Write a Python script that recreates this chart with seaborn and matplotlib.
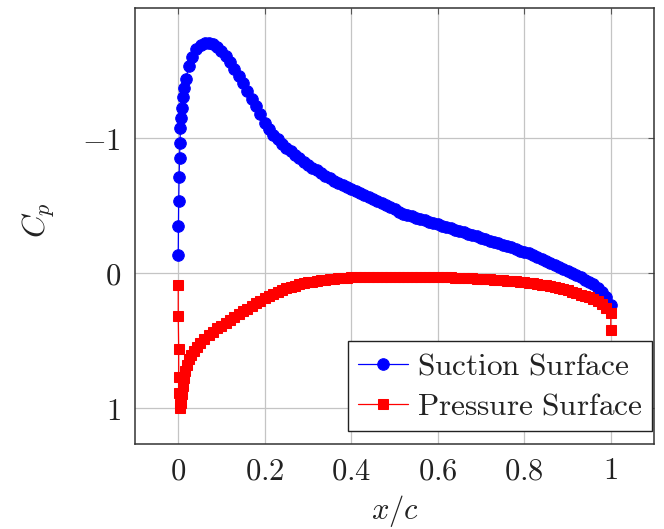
import numpy as np
import pandas as pd
import matplotlib
matplotlib.use('Agg')
import matplotlib.pyplot as plt
import seaborn as sns

# suction surface (upper)
x_suction = [0.000, 0.0005, 0.001, 0.002, 0.003, 0.004, 0.005, 0.007, 0.009,
             0.011, 0.014, 0.018, 0.024, 0.031, 0.040, 0.052, 0.062,
             0.07, 0.08, 0.09, 0.10, 0.11, 0.12, 0.13, 0.14, 0.15, 0.16,
             0.17, 0.18, 0.19, 0.20, 0.21, 0.22, 0.23, 0.24, 0.25, 0.26,
             0.27, 0.28, 0.29, 0.30, 0.31, 0.32, 0.33, 0.34, 0.35, 0.36,
             0.37, 0.38, 0.39, 0.40, 0.41, 0.42, 0.43, 0.44, 0.45, 0.46,
             0.47, 0.48, 0.49, 0.50, 0.51, 0.52, 0.53, 0.54, 0.55, 0.56,
             0.57, 0.58, 0.59, 0.60, 0.61, 0.62, 0.63, 0.64, 0.65, 0.66,
             0.67, 0.68, 0.69, 0.70, 0.71, 0.72, 0.73, 0.74, 0.75, 0.76,
             0.77, 0.78, 0.79, 0.80, 0.81, 0.82, 0.83, 0.84, 0.85, 0.86,
             0.87, 0.88, 0.89, 0.90, 0.91, 0.92, 0.93, 0.94, 0.95, 0.96,
             0.97, 0.98, 0.99, 1.00]
cp_suction = [-0.13, -0.35, -0.53, -0.71, -0.85, -0.96, -1.07, -1.15, -1.22,
              -1.30, -1.37, -1.44, -1.53, -1.60, -1.66, -1.69, -1.70,
              -1.70, -1.695, -1.675, -1.645, -1.605, -1.56, -1.51, -1.46, -1.41, -1.35,
              -1.29, -1.235, -1.18, -1.11, -1.065, -1.025, -0.99, -0.955, -0.925, -0.90,
              -0.875, -0.85, -0.825, -0.80, -0.78, -0.76, -0.74, -0.72, -0.70, -0.68,
              -0.665, -0.65, -0.635, -0.62, -0.605, -0.59, -0.575, -0.56, -0.545, -0.53,
              -0.515, -0.50, -0.485, -0.47, -0.455, -0.44, -0.43, -0.42, -0.41, -0.40,
              -0.39, -0.38, -0.37, -0.36, -0.35, -0.34, -0.33, -0.32, -0.31, -0.30,
              -0.29, -0.28, -0.27, -0.26, -0.25, -0.24, -0.23, -0.22, -0.21, -0.20,
              -0.19, -0.175, -0.165, -0.155, -0.145, -0.13, -0.12, -0.105, -0.09, -0.075,
              -0.06, -0.045, -0.03, -0.015, 0.00, 0.015, 0.03, 0.05, 0.065, 0.085,
              0.11, 0.14, 0.18, 0.24]

# pressure surface (lower)
x_pressure = [0.000, 0.000, 0.001, 0.001, 0.002, 0.003, 0.004, 0.006, 0.008,
              0.010, 0.013, 0.016, 0.020, 0.025, 0.030, 0.036, 0.043, 0.050,
              0.06, 0.07, 0.08, 0.09, 0.10, 0.11, 0.12, 0.13, 0.14, 0.15,
              0.16, 0.17, 0.18, 0.19, 0.20, 0.21, 0.22, 0.23, 0.24, 0.25,
              0.26, 0.27, 0.28, 0.29, 0.30, 0.31, 0.32, 0.33, 0.34, 0.35,
              0.36, 0.37, 0.38, 0.39, 0.40, 0.41, 0.42, 0.43, 0.44, 0.45,
              0.46, 0.47, 0.48, 0.49, 0.50, 0.51, 0.52, 0.53, 0.54, 0.55,
              0.56, 0.57, 0.58, 0.59, 0.60, 0.61, 0.62, 0.63, 0.64, 0.65,
              0.66, 0.67, 0.68, 0.69, 0.70, 0.71, 0.72, 0.73, 0.74, 0.75,
              0.76, 0.77, 0.78, 0.79, 0.80, 0.81, 0.82, 0.83, 0.84, 0.85,
              0.86, 0.87, 0.88, 0.89, 0.90, 0.91, 0.92, 0.93, 0.94, 0.95,
              0.96, 0.97, 0.98, 0.99, 1.00, 1.00]
cp_pressure = [0.09, 0.32, 0.56, 0.77, 0.89, 0.97, 1.00, 0.96, 0.90,
               0.84, 0.78, 0.73, 0.68, 0.64, 0.61, 0.58, 0.55, 0.52,
               0.49, 0.46, 0.435, 0.41, 0.39, 0.37, 0.345, 0.325, 0.305, 0.285,
               0.265, 0.245, 0.225, 0.205, 0.185, 0.17, 0.155, 0.14, 0.125, 0.115,
               0.105, 0.095, 0.085, 0.078, 0.07, 0.065, 0.06, 0.055, 0.05, 0.046,
               0.042, 0.039, 0.036, 0.034, 0.032, 0.031, 0.030, 0.029, 0.028, 0.028,
               0.027, 0.027, 0.027, 0.027, 0.027, 0.027, 0.027, 0.027, 0.028, 0.028,
               0.029, 0.029, 0.030, 0.030, 0.031, 0.031, 0.032, 0.033, 0.034, 0.035,
               0.036, 0.038, 0.040, 0.042, 0.044, 0.046, 0.048, 0.050, 0.052, 0.055,
               0.057, 0.060, 0.063, 0.066, 0.070, 0.074, 0.078, 0.082, 0.087, 0.093,
               0.099, 0.105, 0.112, 0.12, 0.13, 0.14, 0.15, 0.16, 0.17, 0.18,
               0.195, 0.21, 0.23, 0.26, 0.30, 0.42]

x_ticks = [0, 0.2, 0.4, 0.6, 0.8, 1]
x_ticklabels = [r'$0$', r'$0.2$', r'$0.4$', r'$0.6$', r'$0.8$', r'$1$']
y_ticks = [-1, 0, 1]
y_ticklabels = [r'$-1$', r'$0$', r'$1$']

sns.set_style('white')
plt.rcParams['mathtext.fontset'] = 'cm'
plt.rcParams['font.family'] = ['DejaVu Serif']

suction = pd.DataFrame({'x': x_suction, 'cp': cp_suction})
pressure = pd.DataFrame({'x': x_pressure, 'cp': cp_pressure})

fig = plt.figure(figsize=(6.64, 5.29), dpi=100)
ax = fig.add_axes([0.2033, 0.1607, 0.7817, 0.8243])

sns.lineplot(data=suction, x='x', y='cp', ax=ax, estimator=None, sort=False,
             color='blue', lw=0.9, marker='o', markersize=8.3, mec='blue',
             label=r'$\mathrm{Suction\ Surface}\ $')
sns.lineplot(data=pressure, x='x', y='cp', ax=ax, estimator=None, sort=False,
             color='red', lw=0.9, marker='s', markersize=7.3, mec='red',
             label=r'$\mathrm{Pressure\ Surface}\ $')

ax.set_xlim(-0.1, 1.1)
ax.set_ylim(1.267, -1.963)
ax.set_xticks(x_ticks)
ax.set_xticklabels(x_ticklabels, fontsize=22)
ax.set_yticks(y_ticks)
ax.set_yticklabels(y_ticklabels, fontsize=22)
ax.grid(True, color='#c4c4c4', lw=0.9)
ax.set_axisbelow(True)
ax.tick_params(direction='in', top=True, right=True, length=4, width=0.8,
               color='#555555', pad=8, labelcolor='#222222')
ax.tick_params(axis='y', pad=10)
for s in ax.spines.values():
    s.set_color('#333333')
    s.set_linewidth(1.1)

ax.set_xlabel(r'$x/c$', fontsize=22, color='#222222')
ax.set_ylabel(r'$C_p$', fontsize=23, color='#222222')
ax.xaxis.set_label_coords(0.5, -0.112)
ax.yaxis.set_label_coords(-0.15, 0.514)

leg = ax.legend(loc='lower right', bbox_to_anchor=(0.996, 0.03),
                borderaxespad=0, fontsize=22.5, fancybox=False, framealpha=1,
                edgecolor='#222222', handlelength=1.6, handletextpad=0.3,
                borderpad=0.3, labelspacing=0.28)
leg.get_frame().set_linewidth(1.0)
for t in leg.get_texts():
    t.set_color('#222222')

fig.savefig('out.png', dpi=100)
